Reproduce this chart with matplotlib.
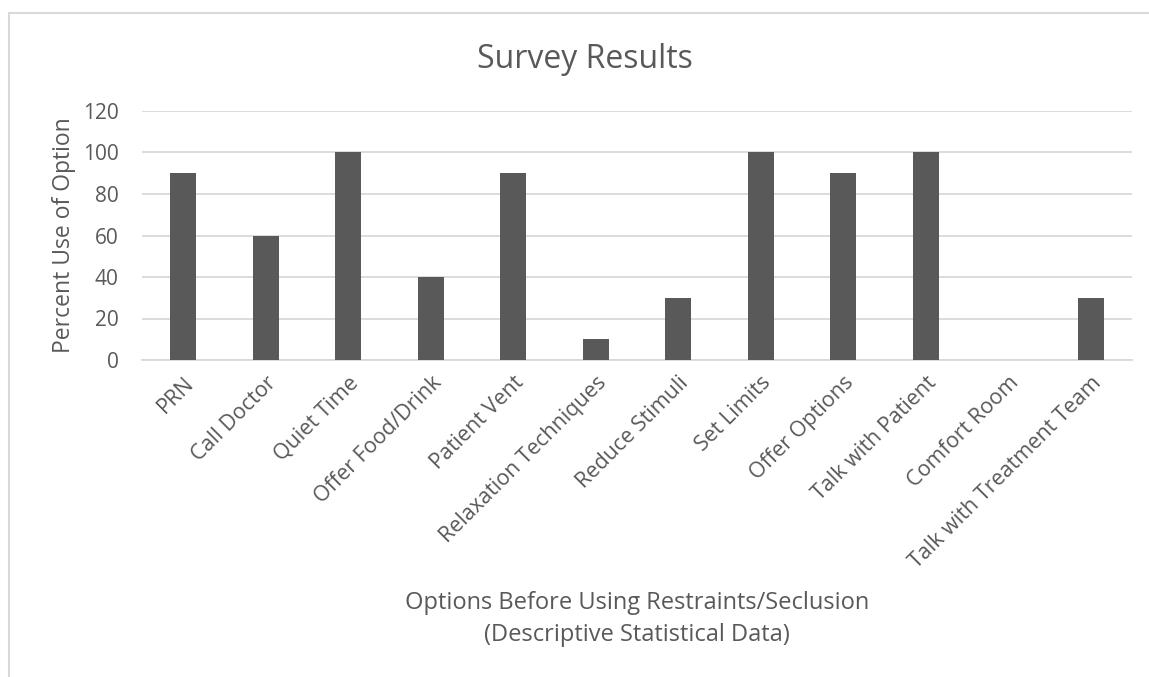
import matplotlib
matplotlib.use("Agg")
import matplotlib.pyplot as plt
from matplotlib.patches import Rectangle

categories = ["PRN", "Call Doctor", "Quiet Time", "Offer Food/Drink", "Patient Vent",
              "Relaxation Techniques", "Reduce Stimuli", "Set Limits", "Offer Options",
              "Talk with Patient", "Comfort Room", "Talk with Treatment Team"]
values = [90, 60, 100, 40, 90, 10, 30, 100, 90, 100, 0, 30]
yticks = [0, 20, 40, 60, 80, 100, 120]

plt.rcParams['font.family'] = ['Open Sans', 'DejaVu Sans']
text_color = "#595959"

fig = plt.figure(figsize=(11.49, 6.77), dpi=100)
ax = fig.add_axes([142 / 1149, 1 - 360 / 677, 990 / 1149, 249 / 677])

# outer chart border (only left and top are inside the image)
fig.patches.append(Rectangle((9 / 1149, -0.1), 1.2, 1 - 13 / 677 + 0.1,
                             transform=fig.transFigure, fill=False,
                             edgecolor="#d9d9d9", linewidth=1.5))

x = range(len(categories))
ax.bar(x, values, width=0.32, color="#595959", zorder=3)

ax.set_xlim(-0.5, len(categories) - 0.5)
ax.set_ylim(0, 120)
ax.set_yticks(yticks)
ax.yaxis.grid(True, color="#d9d9d9", linewidth=1.3, zorder=0)
for s in ["top", "right", "left"]:
    ax.spines[s].set_visible(False)
ax.spines["bottom"].set_color("#d9d9d9")
ax.spines["bottom"].set_linewidth(1.3)
ax.tick_params(axis="both", length=0, colors=text_color)
ax.tick_params(axis="y", pad=17, labelsize=15)
ax.set_xticks(list(x))
ax.set_xticklabels(categories, rotation=45, ha="right", va="top",
                   rotation_mode="anchor", fontsize=15.5)
ax.tick_params(axis="x", pad=9)

# chart title is centred on the whole chart area, which runs past the right edge
fig.text(585 / 1149, 1 - 68 / 677, "Survey Results", fontsize=23,
         color=text_color, ha="center", va="baseline")

ax.set_ylabel("Percent Use of Option", fontsize=16.5, color=text_color)
ax.yaxis.set_label_coords(-0.067, 0.5)
ax.set_xlabel("Options Before Using Restraints/Seclusion\n(Descriptive Statistical Data)",
              fontsize=17, color=text_color, linespacing=1.45)
ax.xaxis.set_label_coords(0.5, -0.928)

fig.savefig("out.png", dpi=100)
